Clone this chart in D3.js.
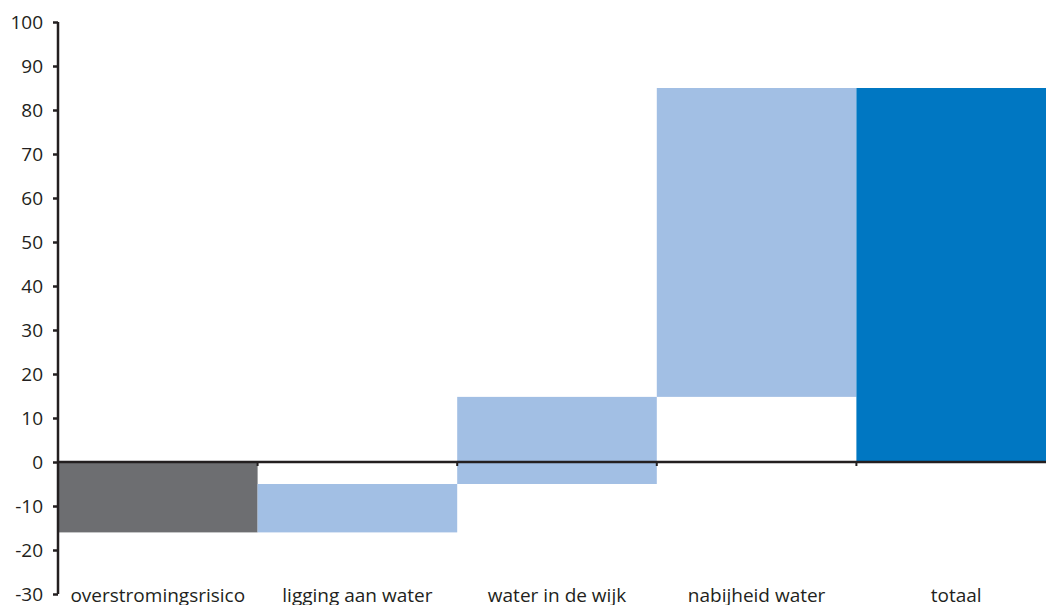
<!DOCTYPE html>
<html><head><meta charset="utf-8">
<script src="https://cdn.jsdelivr.net/npm/d3@7"></script>
<style>body{margin:0;background:#fff}svg{display:block}text{font-family:"Open Sans",sans-serif;fill:#231f20}</style>
</head><body><svg id="c" width="1046" height="605"></svg>
<script>
const categories = ["overstromingsrisico","ligging aan water","water in de wijk","nabijheid water","totaal"];
const barStart = [0, -16, -5, 14.8, 0];
const barEnd   = [-16, -5, 14.8, 85, 85];
const barKind  = ["neg","step","step","step","total"];
const yTicks = [100,90,80,70,60,50,40,30,20,10,0,-10,-20,-30];
const colors = {neg:"#6d6e71", step:"#a2bfe4", total:"#0077c2"};

const svg = d3.select("#c");
const x = d3.scaleBand().domain(categories).range([58, 1056]).paddingInner(0).paddingOuter(0);
const y = d3.scaleLinear().domain([-30, 100]).range([594, 22]);

svg.selectAll("rect.bar").data(categories).join("rect")
  .attr("class","bar")
  .attr("x", d => x(d))
  .attr("width", x.bandwidth())
  .attr("y", (d,i) => y(Math.max(barStart[i], barEnd[i])))
  .attr("height", (d,i) => Math.abs(y(barStart[i]) - y(barEnd[i])))
  .attr("fill", (d,i) => colors[barKind[i]]);

// zero axis with boundary ticks
const zeroG = svg.append("g").attr("transform", `translate(0,${y(0)})`);
zeroG.append("line").attr("x1", 58).attr("x2", 1046).attr("y1",0).attr("y2",0)
  .attr("stroke","#231f20").attr("stroke-width",2.5);
zeroG.selectAll("line.bt").data(categories.slice(1)).join("line").attr("class","bt")
  .attr("x1", d => x(d)).attr("x2", d => x(d)).attr("y1", 0).attr("y2", 4)
  .attr("stroke","#231f20").attr("stroke-width",2);

// category labels
svg.append("g").selectAll("text").data(categories).join("text")
  .attr("x", d => x(d) + x.bandwidth()/2)
  .attr("y", 602)
  .attr("text-anchor","middle")
  .style("font-size","19px")
  .text(d => d);

// y axis
const yAxis = d3.axisLeft(y).tickValues(yTicks).tickSize(5).tickPadding(10).tickFormat(d => String(d));
const yg = svg.append("g").attr("transform","translate(58,0)").call(yAxis);
yg.select(".domain").attr("stroke","#231f20").attr("stroke-width",2.5).attr("d","M0,22V594");
yg.selectAll(".tick line").attr("stroke","#231f20").attr("stroke-width",2.5);
yg.selectAll(".tick text").style("font-size","19px").style("font-family","'Open Sans',sans-serif").attr("fill","#231f20");
</script></body></html>
